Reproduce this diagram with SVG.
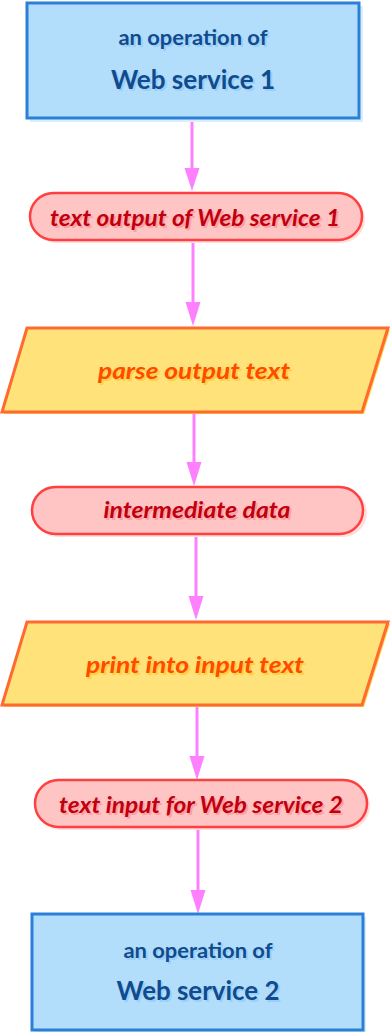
<svg xmlns="http://www.w3.org/2000/svg" width="391" height="1032" viewBox="0 0 391 1032">
  <defs>
    <style>
      .conn { stroke: #ff80ff; stroke-width: 3; fill: none; }
      .head { fill: #ff80ff; }
      .box { fill: #b2defc; stroke: #2a80d6; stroke-width: 3; }
      .box-sh { fill: #d8eefc; }
      .pill { fill: #ffc4c4; stroke: #ff4040; stroke-width: 2.5; }
      .pill-sh { fill: #ffdede; }
      .para { fill: #ffe27a; stroke: #ff6a30; stroke-width: 3; }
      .para-sh { fill: #ffd84a; }
      text { font-family: Lato, "Open Sans", "Liberation Sans", sans-serif; text-anchor: middle; }
      .t-box { fill: #0f4b8e; font-weight: bold; }
      .t-box-sh { fill: #9ccff5; font-weight: bold; }
      .t-pill { fill: #c00010; font-weight: bold; font-style: italic; font-size: 22px; }
      .t-pill-sh { fill: #ffa0a0; font-weight: bold; font-style: italic; font-size: 22px; }
      .t-para { fill: #ff4a00; font-weight: bold; font-style: italic; font-size: 23px; }
      .t-para-sh { fill: #ffd040; font-weight: bold; font-style: italic; font-size: 23px; }
    </style>
  </defs>

  <!-- connectors: vertical flow lines with triangular heads -->
  <g id="connectors">
    <line class="conn" x1="192" y1="119" x2="192" y2="170"/>
    <path class="head" d="M184.5,168 L199.5,168 L192,191 Z"/>
    <line class="conn" x1="193" y1="241" x2="193" y2="304"/>
    <path class="head" d="M185.5,302 L200.5,302 L193,326 Z"/>
    <line class="conn" x1="194" y1="413" x2="194" y2="464"/>
    <path class="head" d="M186.5,462 L201.5,462 L194,486 Z"/>
    <line class="conn" x1="196" y1="535" x2="196" y2="598"/>
    <path class="head" d="M188.5,596 L203.5,596 L196,620 Z"/>
    <line class="conn" x1="197" y1="706" x2="197" y2="758"/>
    <path class="head" d="M189.5,756 L204.5,756 L197,780 Z"/>
    <line class="conn" x1="198" y1="828" x2="198" y2="892"/>
    <path class="head" d="M190.5,890 L205.5,890 L198,914 Z"/>
  </g>

  <!-- operation of web service 1 -->
  <g id="ws1">
    <rect class="box-sh" x="30" y="6" width="333" height="116"/>
    <rect class="box" x="27" y="3" width="332" height="115"/>
    <text class="t-box-sh" x="195" y="47" font-size="21" textLength="149" lengthAdjust="spacingAndGlyphs">an operation of</text>
    <text class="t-box" x="193" y="45" font-size="21" textLength="149" lengthAdjust="spacingAndGlyphs">an operation of</text>
    <text class="t-box-sh" x="195" y="91" font-size="27" textLength="164" lengthAdjust="spacingAndGlyphs">Web service 1</text>
    <text class="t-box" x="193" y="89" font-size="27" textLength="164" lengthAdjust="spacingAndGlyphs">Web service 1</text>
  </g>

  <!-- text output of web service 1 -->
  <g id="out1">
    <rect class="pill-sh" x="32" y="195" width="333" height="48" rx="24"/>
    <rect class="pill" x="30" y="193" width="332" height="47" rx="23.5"/>
    <text class="t-pill-sh" x="197" y="228" textLength="290" lengthAdjust="spacingAndGlyphs">text output of Web service 1</text>
    <text class="t-pill" x="195" y="226" textLength="290" lengthAdjust="spacingAndGlyphs">text output of Web service 1</text>
  </g>

  <!-- parse output text -->
  <g id="parse">
    <polygon class="para-sh" points="29,330 390,330 364,414 4,414"/>
    <polygon class="para" points="27,328 388,328 362,412 2,412"/>
    <text class="t-para-sh" x="196" y="381" textLength="192" lengthAdjust="spacingAndGlyphs">parse output text</text>
    <text class="t-para" x="194" y="379" textLength="192" lengthAdjust="spacingAndGlyphs">parse output text</text>
  </g>

  <!-- intermediate data -->
  <g id="inter">
    <rect class="pill-sh" x="34" y="489" width="333" height="48" rx="24"/>
    <rect class="pill" x="32" y="487" width="331" height="47" rx="23.5"/>
    <text class="t-pill-sh" x="199" y="520" textLength="187" lengthAdjust="spacingAndGlyphs">intermediate data</text>
    <text class="t-pill" x="197" y="518" textLength="187" lengthAdjust="spacingAndGlyphs">intermediate data</text>
  </g>

  <!-- print into input text -->
  <g id="print">
    <polygon class="para-sh" points="29,624 390,624 364,707 4,707"/>
    <polygon class="para" points="27,622 388,622 362,705 2,705"/>
    <text class="t-para-sh" x="197" y="675" textLength="218" lengthAdjust="spacingAndGlyphs">print into input text</text>
    <text class="t-para" x="195" y="673" textLength="218" lengthAdjust="spacingAndGlyphs">print into input text</text>
  </g>

  <!-- text input for web service 2 -->
  <g id="in2">
    <rect class="pill-sh" x="37" y="782" width="333" height="48" rx="24"/>
    <rect class="pill" x="35" y="780" width="332" height="47" rx="23.5"/>
    <text class="t-pill-sh" x="203" y="815" textLength="284" lengthAdjust="spacingAndGlyphs">text input for Web service 2</text>
    <text class="t-pill" x="201" y="813" textLength="284" lengthAdjust="spacingAndGlyphs">text input for Web service 2</text>
  </g>

  <!-- operation of web service 2 -->
  <g id="ws2">
    <rect class="box-sh" x="35" y="917" width="331" height="115"/>
    <rect class="box" x="32" y="914" width="331" height="116"/>
    <text class="t-box-sh" x="200" y="960" font-size="21" textLength="149" lengthAdjust="spacingAndGlyphs">an operation of</text>
    <text class="t-box" x="198" y="958" font-size="21" textLength="149" lengthAdjust="spacingAndGlyphs">an operation of</text>
    <text class="t-box-sh" x="200" y="1002" font-size="27" textLength="163" lengthAdjust="spacingAndGlyphs">Web service 2</text>
    <text class="t-box" x="198" y="1000" font-size="27" textLength="163" lengthAdjust="spacingAndGlyphs">Web service 2</text>
  </g>
</svg>
